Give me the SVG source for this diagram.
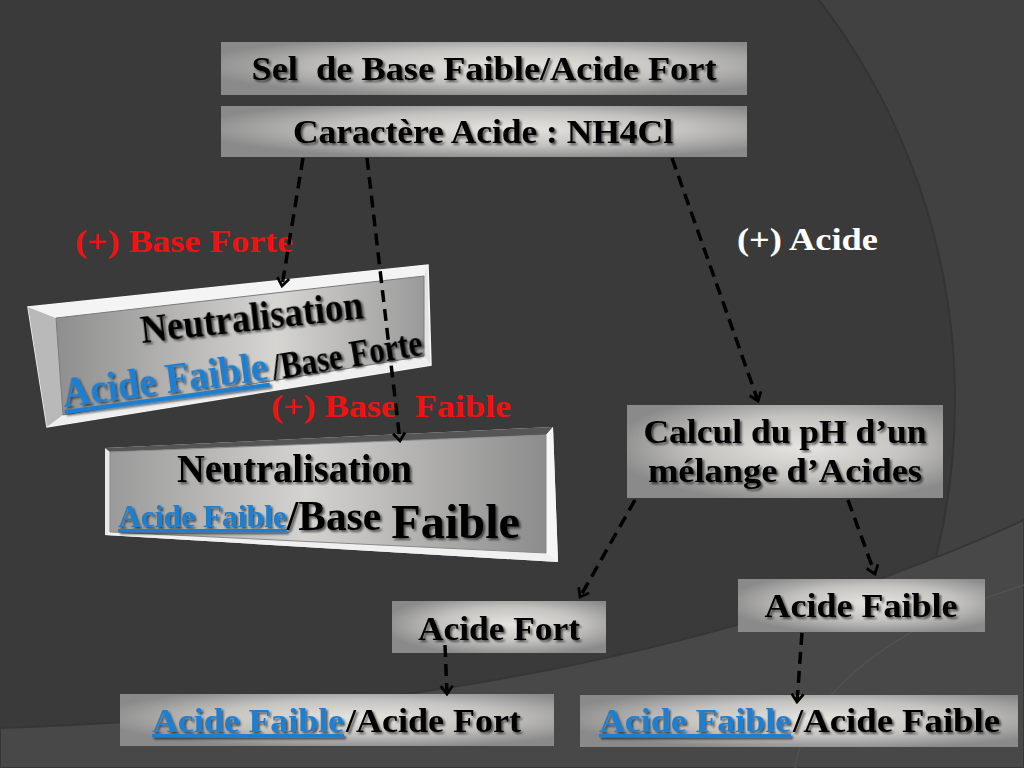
<svg xmlns="http://www.w3.org/2000/svg" width="1024" height="768" viewBox="0 0 1024 768">
<defs>
<style>
.t{font-family:"Liberation Serif","Times New Roman",serif;font-weight:bold;fill:#000;filter:url(#sh)}
.blue{fill:#1f7fd2;text-decoration:underline}
.red{font-family:"Liberation Serif","Times New Roman",serif;font-weight:bold;fill:#f01212}
.white{font-family:"Liberation Serif","Times New Roman",serif;font-weight:bold;fill:#fff}
.box{fill:url(#g)}
.con{fill:none;stroke:#000;stroke-width:3.5;stroke-dasharray:12 7;marker-end:url(#ah)}
</style>
<radialGradient id="g" cx="0.55" cy="0.45" r="0.6">
<stop offset="0" stop-color="#e6e4e0"/>
<stop offset="0.55" stop-color="#c4c3c0"/>
<stop offset="1" stop-color="#8a8a8a"/>
</radialGradient>
<linearGradient id="face1" x1="0" y1="0" x2="1" y2="0">
<stop offset="0" stop-color="#8e8e8e"/>
<stop offset="0.6" stop-color="#d6d5d2"/>
<stop offset="1" stop-color="#9a9a9a"/>
</linearGradient>
<linearGradient id="face2" x1="0" y1="0" x2="1" y2="0">
<stop offset="0" stop-color="#9a9a9a"/>
<stop offset="0.45" stop-color="#d4d3d0"/>
<stop offset="1" stop-color="#8c8c8c"/>
</linearGradient>
<filter id="sh" x="-5%" y="-20%" width="110%" height="150%">
<feDropShadow dx="2" dy="2" stdDeviation="1.3" flood-color="#000" flood-opacity="0.6"/>
</filter>
<marker id="ah" viewBox="-10 -8 12 16" markerWidth="12" markerHeight="16" refX="0" refY="0" orient="auto" markerUnits="userSpaceOnUse">
<path d="M-8,-6 L0,0 L-8,6" fill="none" stroke="#000" stroke-width="2.8" stroke-dasharray="none"/>
</marker>
</defs>

<!-- background -->
<rect x="0" y="0" width="1024" height="768" fill="#414141"/>
<circle cx="300" cy="400" r="655" fill="#3a3a3a" stroke="#343434" stroke-width="2"/>
<path d="M0,728 C350,716 700,668 1024,520 L1024,768 L0,768 Z" fill="#484848" stroke="#363636" stroke-width="2"/>
<path d="M795,768 C805,700 880,630 1024,585" fill="none" stroke="#515151" stroke-width="1.5"/>

<g id="node-sel">
<rect x="221" y="42" width="526" height="53" class="box"/>
<text class="t" x="484" y="80" font-size="33" text-anchor="middle" textLength="465" lengthAdjust="spacingAndGlyphs" xml:space="preserve">Sel  de Base Faible/Acide Fort</text>
</g>

<g id="node-caractere">
<rect x="221" y="106" width="526" height="51" class="box"/>
<text class="t" x="483" y="143" font-size="33" text-anchor="middle" textLength="380" lengthAdjust="spacingAndGlyphs">Caractère Acide : NH4Cl</text>
</g>

<g id="node-neutra-forte">
<polygon points="28,307 428,265 431,365 47,427" fill="#e4e4e4" stroke="#f8f8f8" stroke-width="1.5"/>
<polygon points="28,307 56,318 63,415 47,427" fill="#b9b9b9"/>
<polygon points="28,307 428,265 424,276 56,318" fill="#f4f4f4"/>
<polygon points="47,427 63,415 424,356 431,365" fill="#efefef"/>
<polygon points="56,318 424,276 424,356 63,415" fill="url(#face1)" stroke="#7a7a7a" stroke-width="1"/>
<text class="t" x="142" y="343" font-size="39" textLength="224" lengthAdjust="spacingAndGlyphs" transform="rotate(-6.4 142 343)">Neutralisation</text>
<text class="t blue" x="64" y="407" font-size="42" textLength="207" lengthAdjust="spacingAndGlyphs" transform="rotate(-7.6 64 407)">Acide Faible</text>
<text class="t" x="274" y="380" font-size="37" textLength="152" lengthAdjust="spacingAndGlyphs" transform="rotate(-9.5 274 380)">/Base Forte</text>
</g>

<g id="node-neutra-faible">
<polygon points="105,448 553,427 558,562 105,535" fill="#e8e8e8"/>
<polygon points="105,448 553,427 546,435 110,452" fill="#555"/>
<polygon points="546,435 553,427 558,562 546,553" fill="#f6f6f6"/>
<polygon points="110,532 546,553 558,562 105,535" fill="#f0f0f0"/>
<polygon points="110,452 546,435 546,553 110,532" fill="url(#face2)" stroke="#8a8a8a" stroke-width="1"/>
<text class="t" x="177" y="482" font-size="41" textLength="235" lengthAdjust="spacingAndGlyphs">Neutralisation</text>
<text class="t" x="118" y="527" textLength="402" lengthAdjust="spacingAndGlyphs"><tspan class="blue" font-size="32">Acide Faible</tspan><tspan font-size="42" y="530">/Base </tspan><tspan font-size="49" y="538">Faible</tspan></text>
</g>

<g id="node-calcul">
<rect x="627" y="405" width="316" height="93" class="box"/>
<text class="t" x="785" y="443" font-size="33" text-anchor="middle" textLength="283" lengthAdjust="spacingAndGlyphs">Calcul du pH d’un</text>
<text class="t" x="785" y="482" font-size="33" text-anchor="middle" textLength="274" lengthAdjust="spacingAndGlyphs">mélange d’Acides</text>
</g>

<g id="node-acide-fort">
<rect x="392" y="601" width="214" height="52" class="box"/>
<text class="t" x="499" y="640" font-size="33" text-anchor="middle" textLength="162" lengthAdjust="spacingAndGlyphs">Acide Fort</text>
</g>

<g id="node-acide-faible">
<rect x="738" y="579" width="247" height="53" class="box"/>
<text class="t" x="861" y="617" font-size="33" text-anchor="middle" textLength="193" lengthAdjust="spacingAndGlyphs">Acide Faible</text>
</g>

<g id="node-af-afort">
<rect x="120" y="694" width="434" height="52" class="box"/>
<text class="t blue" x="152" y="732" font-size="33" textLength="192" lengthAdjust="spacingAndGlyphs">Acide Faible</text>
<text class="t" x="346" y="732" font-size="33" textLength="175" lengthAdjust="spacingAndGlyphs">/Acide Fort</text>
</g>

<g id="node-af-afaible">
<rect x="580" y="695" width="438" height="52" class="box"/>
<text class="t blue" x="599" y="732" font-size="33" textLength="192" lengthAdjust="spacingAndGlyphs">Acide Faible</text>
<text class="t" x="793" y="732" font-size="33" textLength="207" lengthAdjust="spacingAndGlyphs">/Acide Faible</text>
</g>

<g id="labels">
<text class="red" x="75" y="252" font-size="31" textLength="218" lengthAdjust="spacingAndGlyphs">(+) Base Forte</text>
<text class="white" x="737" y="250" font-size="31" textLength="141" lengthAdjust="spacingAndGlyphs">(+) Acide</text>
<text class="red" x="271" y="417" font-size="31" textLength="240" lengthAdjust="spacingAndGlyphs" xml:space="preserve">(+) Base  Faible</text>
</g>

<g id="connectors">
<line class="con" x1="303" y1="158" x2="282" y2="286"/>
<line class="con" x1="367" y1="158" x2="400" y2="441"/>
<line class="con" x1="672" y1="158" x2="758" y2="401"/>
<line class="con" x1="635" y1="500" x2="580" y2="597"/>
<line class="con" x1="848" y1="500" x2="875" y2="574"/>
<line class="con" x1="445" y1="645" x2="447" y2="694"/>
<line class="con" x1="802" y1="633" x2="797" y2="702"/>
</g>
</svg>
